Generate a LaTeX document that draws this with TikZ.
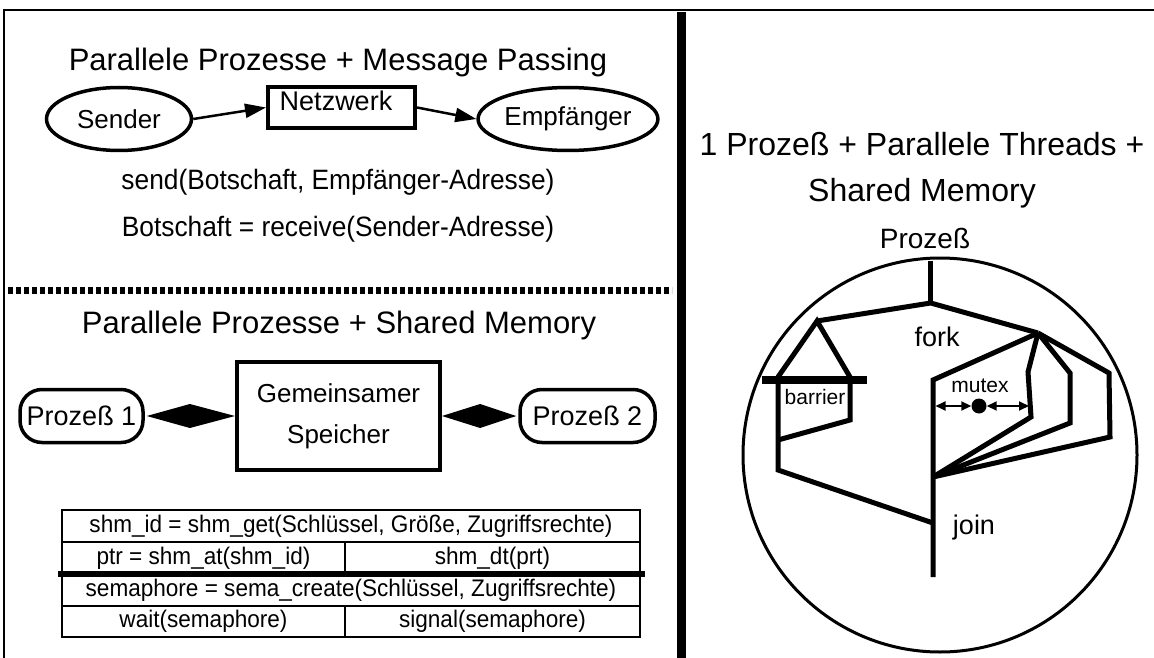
\documentclass[tikz,border=0pt]{standalone}
\usepackage{fontspec}
\setmainfont{Liberation Sans}
\newfontfamily\condf{Liberation Sans}[FakeStretch=0.94]
\usetikzlibrary{arrows.meta,shapes.geometric,calc}
\newcommand\fsz[1]{\fontsize{#1}{#1}\selectfont}
\begin{document}
\begin{tikzpicture}[x=1pt,y=-1pt,
  ell/.style={draw,ellipse,line width=3.5,inner sep=0pt,font=\fsz{26}},
  pbox/.style={draw,rounded corners=22,line width=3.5,inner sep=0pt,minimum width=123,minimum height=53,font=\fsz{27}},
  arr/.style={line width=2.5,-{Triangle[length=21pt,width=14pt]}},
  thr/.style={line width=5},
  tcell/.style={font=\condf\fsz{24},inner sep=0pt},
  lbl/.style={inner sep=0pt}]
\useasboundingbox (0,0) rectangle (1154,658);
% frame
\draw[line width=2] (4,658) -- (4,10) -- (1154,10);
\draw[line width=9] (681,12) -- (681,658);
\draw[line width=7,dash pattern=on 5 off 3] (8,290) -- (672,290);

% ---- message passing
\node[lbl,font=\fsz{31}] (t1) at (338,62) {Parallele Prozesse + Message Passing};
\node[ell,minimum width=145,minimum height=63] (snd) at (119,119) {Sender};
\node[draw,line width=4,minimum width=147,minimum height=41,inner sep=0pt] (net) at (341.5,107.5) {};
\node[lbl,font=\fsz{27}] (netl) at (336,101) {Netzwerk};
\node[ell,minimum width=130,minimum height=63,font=\fsz{26}] (emp) at (568,119) {Empfänger};
\draw[arr] (snd.east) -- (net.west);
\draw[arr] (net.east) -- (emp.west);
\node[lbl,font=\condf\fsz{28}] (send) at (338,182) {send(Botschaft, Empfänger-Adresse)};
\node[lbl,font=\condf\fsz{28}] (recv) at (338,229) {Botschaft = receive(Sender-Adresse)};

% ---- shared memory
\node[lbl,font=\fsz{31}] (t2) at (339,325) {Parallele Prozesse + Shared Memory};
\node[pbox] (p1) at (81.5,416) {Prozeß 1};
\node[draw,line width=4,minimum width=203,minimum height=108,inner sep=0pt,align=center,font=\fontsize{26}{41}\selectfont] (mem) at (338.5,416) {Gemeinsamer\\Speicher};
\node[pbox,minimum width=135] (p2) at (587.5,416) {Prozeß 2};
\fill ($(p1.east)+(2,0)$) -- ($(p1.east)!0.5!(mem.west)+(0,-12)$) -- (mem.west) -- ($(p1.east)!0.5!(mem.west)+(0,12)$) -- cycle;
\fill (mem.east) -- ($(mem.east)!0.5!(p2.west)+(0,-12)$) -- ($(p2.west)+(-2,0)$) -- ($(mem.east)!0.5!(p2.west)+(0,12)$) -- cycle;

% table
\draw[line width=1.5] (62,510) rectangle (640,637);
\draw[line width=1.5] (62,542) -- (640,542);
\draw[line width=1.5] (62,606) -- (640,606);
\draw[line width=1.5] (345,542) -- (345,574);
\draw[line width=1.5] (345,606) -- (345,637);
\draw[line width=6] (58,574) -- (645,574);
\node[tcell] (c1) at (351,526) {shm\_id = shm\_get(Schlüssel, Größe, Zugriffsrechte)};
\node[tcell] (c2) at (203.5,558) {ptr = shm\_at(shm\_id)};
\node[tcell] (c3) at (492.5,558) {shm\_dt(prt)};
\node[tcell] (c4) at (351,590) {semaphore = sema\_create(Schlüssel, Zugriffsrechte)};
\node[tcell] (c5) at (203.5,621.5) {wait(semaphore)};
\node[tcell] (c6) at (492.5,621.5) {signal(semaphore)};

% ---- threads
\node[lbl,align=center,font=\fontsize{32}{46}\selectfont] (t3) at (922,170) {1 Prozeß + Parallele Threads +\\Shared Memory};
\node[lbl,font=\fsz{28}] (proz) at (925,238) {Prozeß};
\draw[line width=3] (940,455) circle[radius=197pt];
\node[lbl,font=\fsz{27}] (fork) at (937,337) {fork};
\node[lbl,font=\fsz{21}] (mutex) at (980,386) {mutex};
\node[lbl,font=\fsz{21}] (barrier) at (815,397) {barrier};
\node[lbl,font=\fsz{27}] (join) at (974,528) {join};
\coordinate (top) at (930.7,261);
\coordinate (F) at (930.7,303);
\coordinate (L) at (817,321);
\coordinate (R) at (1038,333);
\coordinate (la) at (778,377);
\coordinate (lb) at (850,377);
\coordinate (J1) at (933,523);
\coordinate (J2) at (933,477);
\coordinate (jt) at (933,380);
\coordinate (jb) at (933,577);
\draw[thr] (top) -- (F);
\draw[thr] (L) -- (F) -- (R);
\draw[thr] (la) -- (L) -- (lb);
\draw[line width=8] (762,380) -- (867,380);
\draw[thr] (la) -- (778,470) -- (J1);
\draw[thr] (lb) -- (850,420) -- (778,440);
\draw[thr] (R) -- (jt) -- (jb);
\draw[thr] (R) -- (1028,372) -- (1031,417) -- (J2);
\draw[thr] (R) -- (1070,373) -- (1070,423) -- (J2);
\draw[thr] (R) -- (1109,373) -- (1110,437) -- (J2);
\node[circle,fill,inner sep=0pt,minimum size=15] (dot) at (979,406) {};
\draw[line width=1.8,{Triangle[length=10pt,width=9pt]}-{Triangle[length=10pt,width=9pt]}] (935.5,406) -- (dot.west);
\draw[line width=1.8,{Triangle[length=10pt,width=9pt]}-{Triangle[length=10pt,width=9pt]}] (dot.east) -- (1029,406);
\end{tikzpicture}
\end{document}
